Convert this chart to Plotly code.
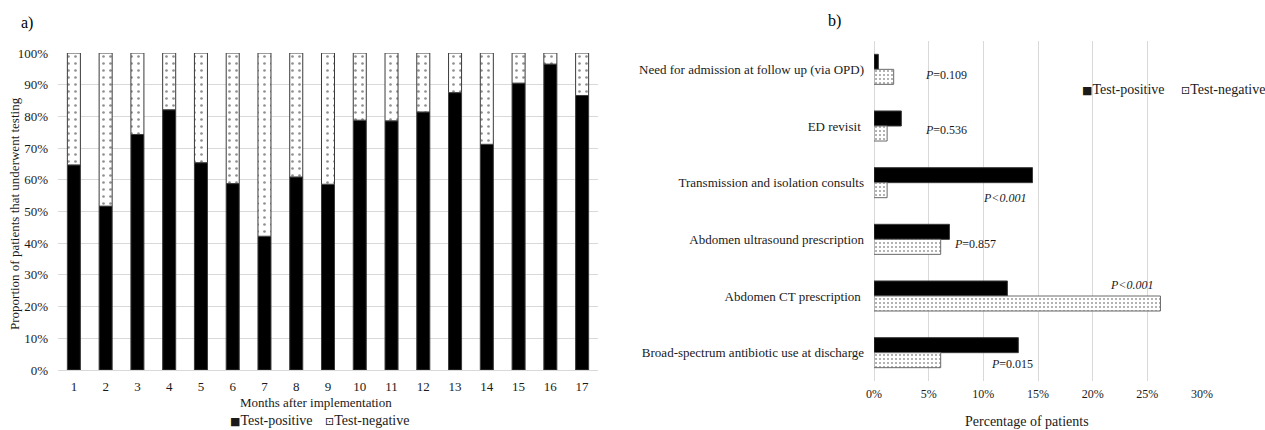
import plotly.graph_objects as go

# ---- Panel a: monthly share of test-positive vs test-negative patients ----
months = [str(m) for m in range(1, 18)]
positive_share = [64.7, 51.7, 74.3, 82.1, 65.4, 58.8, 42.2, 60.9, 58.6,
                  78.8, 78.6, 81.4, 87.5, 71.2, 90.5, 96.5, 86.6]
negative_share = [round(100 - p, 1) for p in positive_share]

# ---- Panel b: outcomes by test result ----
outcomes = [
    "Need for admission at follow up (via OPD)",
    "ED revisit\u00a0",
    "Transmission and isolation consults",
    "Abdomen ultrasound prescription",
    "Abdomen CT prescription\u00a0",
    "Broad-spectrum antibiotic use at discharge",
]
outcome_positive = [0.4, 2.5, 14.5, 6.9, 12.2, 13.2]
outcome_negative = [1.8, 1.2, 1.2, 6.1, 26.2, 6.1]
p_labels = ["<i>P</i>=0.109", "<i>P</i>=0.536", "<i>P&lt;0.001</i>",
            "<i>P</i>=0.857", "<i>P&lt;0.001</i>", "<i>P</i>=0.015"]
# where each p-value label sits: left edge (in %) and vertical nudge (px)
p_label_x = [4.5, 4.5, 9.8, 7.15, 21.4, 10.5]
p_label_shift = [-6, -4, -15, -5, 11, -11]

SERIF = "Liberation Serif, Times New Roman, serif"
TEXT = "#1a1a1a"
GRID = "#d9d9d9"
EDGE = "#3a3a3a"

W, H = 1265, 430


def px_x(x):
    return x / W


def px_y(y):
    return 1 - y / H


fig = go.Figure()

# stacked columns, panel a
fig.add_trace(go.Bar(
    x=months, y=positive_share, name="Test-positive",
    marker=dict(color="black", line=dict(color=EDGE, width=1)),
    width=0.41, offset=-0.205, xaxis="x", yaxis="y", showlegend=False,
))
fig.add_trace(go.Bar(
    x=months, y=negative_share, base=positive_share, name="Test-negative",
    marker=dict(color="white", line=dict(color=EDGE, width=1),
                pattern=dict(shape=".", size=7, solidity=0.12,
                             fgcolor="#222", bgcolor="white")),
    width=0.41, offset=-0.205, xaxis="x", yaxis="y", showlegend=False,
))

# grouped horizontal bars, panel b
fig.add_trace(go.Bar(
    y=outcomes, x=outcome_positive, orientation="h", name="Test-positive",
    marker=dict(color="black", line=dict(color=EDGE, width=1)),
    width=0.265, offset=-0.265, xaxis="x2", yaxis="y2", showlegend=False,
))
fig.add_trace(go.Bar(
    y=outcomes, x=outcome_negative, orientation="h", name="Test-negative",
    marker=dict(color="white", line=dict(color="#6a6a6a", width=1),
                pattern=dict(shape=".", size=4, solidity=0.2,
                             fgcolor="#333", bgcolor="white")),
    width=0.265, offset=0, xaxis="x2", yaxis="y2", showlegend=False,
))

annotations = []

for lab, xv, sh, cat in zip(p_labels, p_label_x, p_label_shift, outcomes):
    annotations.append(dict(
        text=lab, x=xv, y=cat, xref="x2", yref="y2", xanchor="left",
        yanchor="middle", yshift=sh, showarrow=False,
        font=dict(family=SERIF, size=12, color=TEXT),
    ))

# panel letters
annotations.append(dict(text="a)", x=px_x(19), y=px_y(23), xref="paper", yref="paper",
                        xanchor="left", yanchor="middle", showarrow=False,
                        font=dict(family=SERIF, size=16, color="black")))
annotations.append(dict(text="b)", x=px_x(826), y=px_y(21), xref="paper", yref="paper",
                        xanchor="left", yanchor="middle", showarrow=False,
                        font=dict(family=SERIF, size=16, color="black")))

# axis titles
annotations.append(dict(text="Proportion of patients that underwent testing",
                        x=px_x(15), y=px_y(214), xref="paper", yref="paper",
                        textangle=-90, xanchor="center", yanchor="middle", showarrow=False,
                        font=dict(family=SERIF, size=13, color=TEXT)))
annotations.append(dict(text="Months after implementation",
                        x=px_x(316), y=px_y(402), xref="paper", yref="paper",
                        xanchor="center", yanchor="middle", showarrow=False,
                        font=dict(family=SERIF, size=13, color=TEXT)))
annotations.append(dict(text="Percentage of patients",
                        x=px_x(1027), y=px_y(421), xref="paper", yref="paper",
                        xanchor="center", yanchor="middle", showarrow=False,
                        font=dict(family=SERIF, size=14, color=TEXT)))

# legends drawn as text keys
for (gx, gy, glyph, label) in [
    (228, 420, "\u25A0", "Test-positive"), (323, 420, "\u22A1", "Test-negative"),
    (1080, 89, "\u25A0", "Test-positive"), (1179, 89, "\u22A1", "Test-negative"),
]:
    annotations.append(dict(
        text=f"<span style='font-family:DejaVu Sans;font-size:11px'>{glyph}</span>{label}",
        x=px_x(gx), y=px_y(gy), xref="paper", yref="paper",
        xanchor="left", yanchor="middle", showarrow=False,
        font=dict(family=SERIF, size=14, color=TEXT)))

fig.update_layout(
    width=W, height=H,
    margin=dict(l=0, r=0, t=0, b=0, autoexpand=False),
    paper_bgcolor="white", plot_bgcolor="white",
    barmode="overlay",
    font=dict(family=SERIF, color=TEXT),
    xaxis=dict(domain=[px_x(58), px_x(598)], type="category",
               range=[-0.5, 16.5], showgrid=False, showline=True,
               linecolor=GRID, linewidth=1, ticks="", automargin=False,
               tickfont=dict(family=SERIF, size=13, color=TEXT),
               ticklabelstandoff=4, anchor="y"),
    yaxis=dict(domain=[px_y(370), px_y(53)], range=[0, 100], dtick=10,
               ticksuffix="%", showgrid=True, gridcolor=GRID, gridwidth=1,
               zeroline=False, showline=False, ticks="", automargin=False,
               tickfont=dict(family=SERIF, size=13, color=TEXT),
               ticklabelstandoff=9, anchor="x"),
    xaxis2=dict(domain=[px_x(874), px_x(1202)], range=[0, 30], dtick=5,
                ticksuffix="%", showgrid=True, gridcolor=GRID, gridwidth=1,
                zeroline=True, zerolinecolor=GRID, zerolinewidth=1,
                showline=False, ticks="", automargin=False,
                tickfont=dict(family=SERIF, size=12, color=TEXT),
                ticklabelstandoff=4, anchor="y2"),
    yaxis2=dict(domain=[px_y(381), px_y(41)], type="category",
                autorange="reversed", showgrid=False, showline=False,
                ticks="", automargin=False,
                tickfont=dict(family=SERIF, size=13, color=TEXT),
                ticklabelstandoff=9, anchor="x2"),
    annotations=annotations,
)

fig.write_html("out.html")
